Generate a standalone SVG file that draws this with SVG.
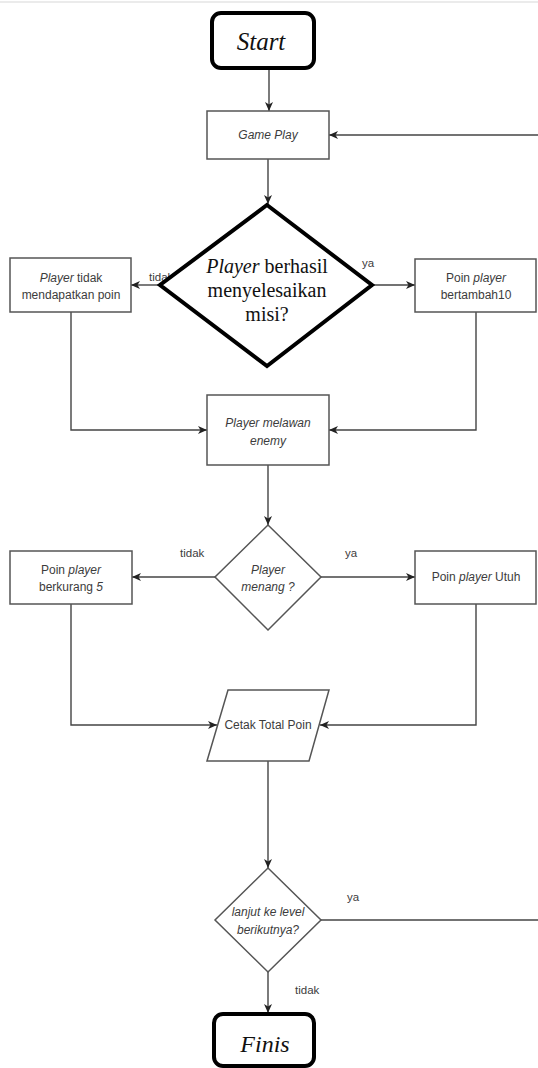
<svg xmlns="http://www.w3.org/2000/svg" width="538" height="1068" viewBox="0 0 538 1068">
<defs>
<marker id="arr" markerUnits="userSpaceOnUse" markerWidth="10" markerHeight="8" refX="9" refY="4" orient="auto">
<path d="M0,0 L9,4 L0,8 L2.5,4 Z" fill="#222"/>
</marker>
<style>
.box{fill:#fff;stroke:#555;stroke-width:1.5}
.bold{fill:#fff;stroke:#000;stroke-width:4}
.con{fill:none;stroke:#444;stroke-width:1.4}
.t{font-family:"Liberation Sans",Arial,sans-serif;font-size:12px;fill:#3c3c3c;text-anchor:middle}
.lbl{font-family:"Liberation Sans",Arial,sans-serif;font-size:11.5px;fill:#3c3c3c}
.s{font-family:"Liberation Serif","Times New Roman",serif;fill:#111;text-anchor:middle}
.i{font-style:italic}
</style>
</defs>
<rect width="538" height="1068" fill="#fff"/>
<line x1="0" y1="2" x2="538" y2="2" stroke="#e4e4e4" stroke-width="1.5"/>

<g id="labels-under">
<text class="lbl" x="149" y="281">tidak</text>
</g>

<g id="connectors">
<path class="con" d="M269,69 V111" marker-end="url(#arr)"/>
<path class="con" d="M268,159 V204" marker-end="url(#arr)"/>
<path class="con" d="M538,135 H329" marker-end="url(#arr)"/>
<path class="con" d="M160,285 H131" marker-end="url(#arr)"/>
<path class="con" d="M372,285 H415" marker-end="url(#arr)"/>
<path class="con" d="M71,312 V430 H207" marker-end="url(#arr)"/>
<path class="con" d="M476,312 V430 H329" marker-end="url(#arr)"/>
<path class="con" d="M268,465 V525" marker-end="url(#arr)"/>
<path class="con" d="M215,577 H132" marker-end="url(#arr)"/>
<path class="con" d="M321,577 H415" marker-end="url(#arr)"/>
<path class="con" d="M71,604 V725 H217" marker-end="url(#arr)"/>
<path class="con" d="M476,604 V725 H320" marker-end="url(#arr)"/>
<path class="con" d="M268,761 V868" marker-end="url(#arr)"/>
<path class="con" d="M321,920 H538"/>
<path class="con" d="M268,972 V1013" marker-end="url(#arr)"/>
</g>

<g id="start">
<rect class="bold" x="212" y="13" width="102" height="55" rx="9"/>
<text class="s i" x="261" y="50" font-size="25">Start</text>
</g>

<g id="gameplay">
<rect class="box" x="207" y="111" width="122" height="48"/>
<text class="t i" x="268" y="139">Game Play</text>
</g>

<g id="decision1">
<polygon class="bold" points="267,205 372,285 267,366 160,285"/>
<text class="s" font-size="20" x="267" y="273"><tspan class="i">Player</tspan> berhasil</text>
<text class="s" font-size="20" x="267" y="297">menyelesaikan</text>
<text class="s" font-size="20" x="267" y="321">misi?</text>
</g>

<g id="no-points">
<rect class="box" x="10" y="258" width="121" height="54"/>
<text class="t" x="71" y="282"><tspan class="i">Player</tspan> tidak</text>
<text class="t" x="71" y="299">mendapatkan poin</text>
</g>

<g id="plus10">
<rect class="box" x="415" y="259" width="121" height="53"/>
<text class="t" x="476" y="282">Poin <tspan class="i">player</tspan></text>
<text class="t" x="476" y="299">bertambah10</text>
</g>

<g id="fight">
<rect class="box" x="207" y="395" width="122" height="70"/>
<text class="t i" x="268" y="427">Player melawan</text>
<text class="t i" x="268" y="445">enemy</text>
</g>

<g id="decision2">
<polygon class="box" points="268,525 321,577 268,630 215,577"/>
<text class="t i" x="268" y="574">Player</text>
<text class="t i" x="268" y="591">menang ?</text>
</g>

<g id="minus5">
<rect class="box" x="10" y="551" width="122" height="53"/>
<text class="t" x="71" y="574">Poin <tspan class="i">player</tspan></text>
<text class="t" x="71" y="591">berkurang <tspan class="i">5</tspan></text>
</g>

<g id="intact">
<rect class="box" x="415" y="551" width="121" height="53"/>
<text class="t" x="476" y="581">Poin <tspan class="i">player</tspan> Utuh</text>
</g>

<g id="print">
<polygon class="box" points="228,690 329,690 309,761 207,761"/>
<text class="t" x="268" y="729">Cetak Total Poin</text>
</g>

<g id="decision3">
<polygon class="box" points="268,868 321,920 268,972 215,920"/>
<text class="t i" x="268" y="916">lanjut ke level</text>
<text class="t i" x="268" y="934">berikutnya?</text>
</g>

<g id="finis">
<rect class="bold" x="214" y="1014" width="100" height="52" rx="9"/>
<text class="s i" x="265" y="1052" font-size="24">Finis</text>
</g>

<g id="labels">
<text class="lbl" x="362" y="267">ya</text>
<text class="lbl" x="180" y="557">tidak</text>
<text class="lbl" x="345" y="557">ya</text>
<text class="lbl" x="347" y="901">ya</text>
<text class="lbl" x="295" y="994">tidak</text>
</g>
</svg>
